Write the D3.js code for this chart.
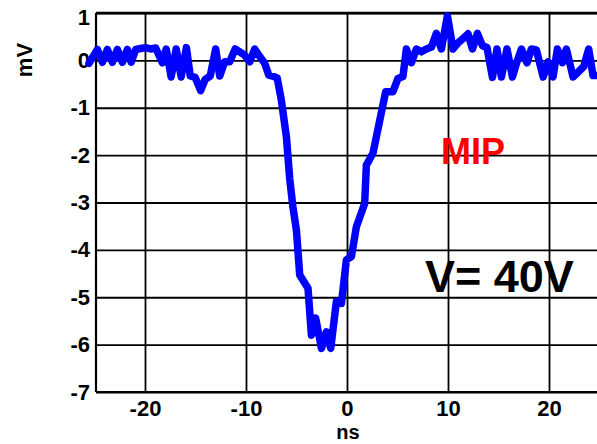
<!DOCTYPE html>
<html>
<head>
<meta charset="utf-8">
<script src="https://cdn.jsdelivr.net/npm/d3@7"></script>
<style>
  body { margin: 0; background: #fff; }
  svg { display: block; }
</style>
</head>
<body>
<svg id="chart" width="597" height="444"></svg>
<script>
// Waveform samples: time (ns) and amplitude (mV)
const timeNs = [
  -25.54, -24.71, -24.22, -23.72, -23.23, -22.73, -22.24, -21.74, -21.37, -20.92,
  -20.43, -19.93, -19.44, -18.94, -18.28, -17.90, -17.41, -16.91, -16.42, -15.90,
  -15.52, -15.03, -14.49, -14.04, -13.54, -13.00, -12.60, -12.11, -11.61, -11.07,
  -10.62, -10.13, -9.63, -9.14, -8.64, -8.15, -7.75, -7.26, -6.91, -6.50,
  -6.00, -5.67, -5.35, -5.01, -4.68, -3.86, -3.52, -3.10, -2.53, -2.04,
  -1.61, -1.05, -0.55, -0.06, 0.44, 0.93, 1.75, 1.92, 2.57, 3.83,
  4.55, 5.05, 5.54, 5.88, 6.38, 6.87, 7.37, 7.86, 8.36, 8.85,
  9.35, 9.94, 10.50, 10.99, 11.49, 11.98, 12.42, 12.91, 13.41, 13.86,
  14.40, 14.85, 15.29, 15.84, 16.38, 16.83, 17.27, 17.82, 18.26, 18.75,
  19.43, 19.90, 20.40, 20.83, 21.33, 21.72, 22.38, 22.87, 23.44, 23.93,
  24.36, 24.92
];
const signalMv = [
  -0.06, 0.23, -0.04, 0.23, -0.04, 0.23, -0.04, 0.23, -0.04, 0.23,
  0.25, 0.27, 0.24, 0.26, -0.05, 0.24, -0.35, 0.24, -0.35, 0.27,
  -0.33, -0.36, -0.64, -0.40, -0.33, 0.24, -0.33, -0.03, -0.03, 0.24,
  0.18, 0.11, -0.03, 0.24, 0.08, -0.06, -0.31, -0.34, -0.37, -0.84,
  -1.61, -2.50, -3.10, -3.58, -4.53, -4.81, -5.80, -5.44, -6.08, -5.73,
  -6.08, -5.09, -5.13, -4.21, -4.14, -3.51, -3.02, -2.21, -1.96, -0.66,
  -0.66, -0.38, -0.34, 0.24, -0.05, 0.24, 0.18, 0.24, 0.28, 0.57,
  0.24, 0.94, 0.24, 0.37, 0.46, 0.56, 0.24, 0.57, 0.31, 0.27,
  -0.36, 0.24, -0.35, 0.24, -0.35, -0.03, 0.24, -0.05, 0.24, 0.22,
  -0.35, -0.03, -0.35, 0.24, -0.05, 0.24, -0.35, -0.25, -0.13, 0.24,
  -0.32, -0.32
];

const xDomain = [-24.85, 25];
const yDomain = [-7, 1];
const xTicks = [-20, -10, 0, 10, 20];
const yTicks = [1, 0, -1, -2, -3, -4, -5, -6, -7];
const xTitle = "ns";
const yTitle = "mV";
const particleLabel = "MIP";
const voltageLabel = "V= 40V";

const font = "'Liberation Sans', Arial, Helvetica, sans-serif";
const svg = d3.select("#chart");

const plotLeft = 96, plotRight = 599.5, plotTop = 13, plotBottom = 392;
const x = d3.scaleLinear().domain(xDomain).range([plotLeft, plotRight]);
const y = d3.scaleLinear().domain(yDomain).range([plotBottom, plotTop]);

// Plain hyphen-minus labels
const plainNum = d => String(d);

// Grid + tick labels
const xAxis = svg.append("g")
  .attr("transform", `translate(0,${plotBottom})`)
  .call(d3.axisBottom(x).tickValues(xTicks).tickFormat(plainNum)
    .tickSizeInner(-(plotBottom - plotTop)).tickSizeOuter(0).tickPadding(8));
const yAxis = svg.append("g")
  .attr("transform", `translate(${plotLeft},0)`)
  .call(d3.axisLeft(y).tickValues(yTicks).tickFormat(plainNum)
    .tickSizeInner(-(plotRight - plotLeft)).tickSizeOuter(0).tickPadding(6));

[xAxis, yAxis].forEach(g => {
  g.select(".domain").remove();
  g.selectAll(".tick line").attr("stroke", "#000").attr("stroke-width", 1.8);
  g.selectAll(".tick text")
    .attr("fill", "#000")
    .style("font-family", font)
    .style("font-weight", "bold")
    .style("font-size", "22px");
});
// keep the topmost label inside the canvas
yAxis.selectAll(".tick text").filter(d => d === yDomain[1]).attr("y", 4);

// Frame
const frame = svg.append("g").attr("stroke", "#000").attr("fill", "none");
frame.append("line").attr("x1", plotLeft).attr("x2", plotRight)
  .attr("y1", plotTop).attr("y2", plotTop).attr("stroke-width", 2.6);
frame.append("line").attr("x1", plotLeft).attr("x2", plotRight)
  .attr("y1", plotBottom).attr("y2", plotBottom).attr("stroke-width", 2.2);
frame.append("line").attr("x1", plotLeft).attr("x2", plotLeft)
  .attr("y1", plotTop).attr("y2", plotBottom).attr("stroke-width", 2.2);

// Signal trace
const line = d3.line().x(d => x(d[0])).y(d => y(d[1]));
svg.append("path")
  .datum(d3.zip(timeNs, signalMv))
  .attr("d", line)
  .attr("fill", "none")
  .attr("stroke", "#0000ff")
  .attr("stroke-width", 7.5)
  .attr("stroke-linejoin", "round")
  .attr("stroke-linecap", "round");

// Axis titles
svg.append("text")
  .attr("x", 348).attr("y", 439)
  .attr("text-anchor", "middle")
  .style("font-family", font).style("font-weight", "bold").style("font-size", "20px")
  .text(xTitle);
svg.append("text")
  .attr("transform", "translate(32,60) rotate(-90)")
  .attr("text-anchor", "middle")
  .style("font-family", font).style("font-weight", "bold").style("font-size", "22px")
  .text(yTitle);

// Annotations
svg.append("text")
  .attr("x", 441).attr("y", 164)
  .attr("fill", "#ff0000")
  .style("font-family", font).style("font-weight", "bold").style("font-size", "36px")
  .text(particleLabel);
svg.append("text")
  .attr("x", 425).attr("y", 292)
  .attr("fill", "#000")
  .style("font-family", font).style("font-weight", "bold").style("font-size", "45px")
  .text(voltageLabel);
</script>
</body>
</html>
